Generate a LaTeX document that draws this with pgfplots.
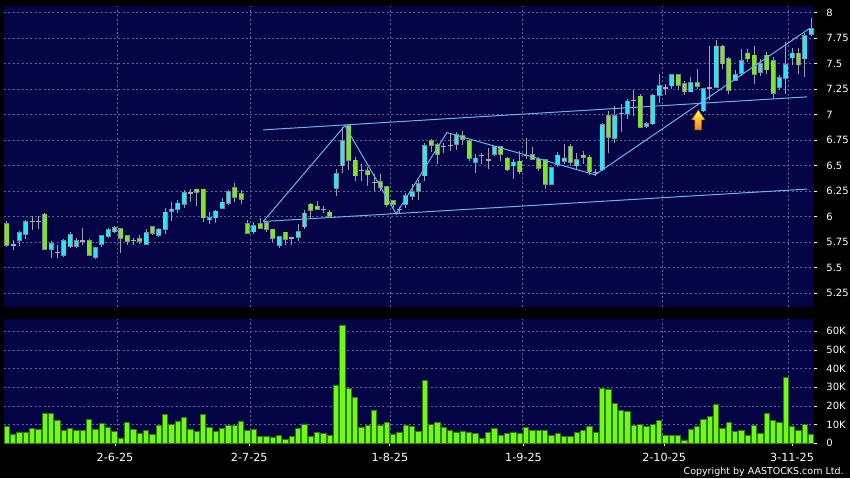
\documentclass[border=0pt]{standalone}
\usepackage{fontspec}
\setmainfont{DejaVu Sans}
\usepackage{pgfplots}
\usepackage{pgfplotstable}
\pgfplotsset{compat=1.18}
\definecolor{navy}{RGB}{3,3,70}
\definecolor{gridc}{RGB}{95,100,150}
\definecolor{upc}{RGB}{45,228,245}
\definecolor{dnc}{RGB}{125,228,40}
\definecolor{rim}{RGB}{125,135,145}
\definecolor{wickc}{RGB}{160,160,170}
\definecolor{dojic}{RGB}{165,170,180}
\definecolor{volc}{RGB}{110,250,20}
\definecolor{voledge}{RGB}{50,120,10}
\definecolor{trend}{RGB}{105,180,235}

\pgfplotstableread{
i o h l c
2 5.77 5.86 5.71 5.84
3 5.83 5.97 5.78 5.95
7 5.68 5.76 5.59 5.73
9 5.62 5.78 5.60 5.76
10 5.71 5.85 5.69 5.82
11 5.71 5.79 5.69 5.76
14 5.60 5.70 5.58 5.69
15 5.73 5.82 5.70 5.81
16 5.81 5.89 5.79 5.87
17 5.85 5.91 5.84 5.89
22 5.73 5.88 5.72 5.84
24 5.82 5.89 5.80 5.875
25 5.875 6.08 5.83 6.04
26 6.05 6.14 5.96 6.07
27 6.07 6.16 6.03 6.13
28 6.12 6.26 6.08 6.23
32 5.97 6.04 5.93 5.99
33 5.99 6.06 5.94 6.05
34 6.085 6.18 6.07 6.14
35 6.13 6.26 6.11 6.24
39 5.85 5.95 5.83 5.91
43 5.72 5.81 5.69 5.80
46 5.80 5.93 5.76 5.85
47 5.90 6.06 5.88 6.03
52 6.28 6.47 6.20 6.42
53 6.50 6.88 6.43 6.745
63 6.12 6.23 6.08 6.20
64 6.20 6.32 6.16 6.24
65 6.25 6.36 6.16 6.32
66 6.40 6.72 6.35 6.69
71 6.71 6.83 6.65 6.80
74 6.53 6.61 6.43 6.57
77 6.615 6.69 6.59 6.68
80 6.50 6.56 6.37 6.53
86 6.32 6.48 6.31 6.475
87 6.515 6.63 6.49 6.60
88 6.54 6.71 6.52 6.57
90 6.50 6.62 6.46 6.555
94 6.46 6.92 6.45 6.90
96 6.77 7.08 6.72 6.99
98 7.01 7.15 6.96 7.13
101 6.89 6.93 6.87 6.91
102 6.91 7.20 6.90 7.19
103 7.19 7.40 7.11 7.285
105 7.285 7.40 7.25 7.39
108 7.225 7.37 7.22 7.31
110 7.04 7.26 7.03 7.25
112 7.27 7.73 7.26 7.67
115 7.34 7.44 7.33 7.39
116 7.41 7.64 7.38 7.53
119 7.415 7.55 7.38 7.50
122 7.27 7.39 7.25 7.36
123 7.36 7.71 7.20 7.49
124 7.56 7.65 7.49 7.60
126 7.55 7.80 7.37 7.77
127 7.79 7.945 7.77 7.84
}\upcandles

\pgfplotstableread{
i o h l c
0 5.925 5.96 5.70 5.72
6 6.02 6.03 5.67 5.68
13 5.76 5.78 5.61 5.62
18 5.88 5.89 5.64 5.79
19 5.81 5.82 5.72 5.76
21 5.78 5.82 5.73 5.755
23 5.90 5.91 5.82 5.84
30 6.265 6.27 6.10 6.24
31 6.265 6.27 5.95 5.99
36 6.28 6.33 6.14 6.19
37 6.22 6.26 6.12 6.17
38 5.93 5.97 5.83 5.84
40 5.925 5.99 5.88 5.885
41 5.94 5.96 5.85 5.875
42 5.875 5.88 5.75 5.79
44 5.845 5.85 5.72 5.78
48 6.12 6.13 5.99 6.06
49 6.10 6.15 6.06 6.07
51 6.04 6.06 5.99 6.00
54 6.89 6.90 6.46 6.555
55 6.55 6.58 6.35 6.40
57 6.45 6.49 6.30 6.41
59 6.34 6.42 6.25 6.285
60 6.29 6.30 6.09 6.115
61 6.15 6.16 6.08 6.12
67 6.745 6.76 6.63 6.70
68 6.70 6.72 6.52 6.61
72 6.79 6.84 6.70 6.76
73 6.745 6.75 6.54 6.57
78 6.68 6.69 6.54 6.61
79 6.57 6.58 6.45 6.46
81 6.54 6.64 6.42 6.44
83 6.605 6.68 6.55 6.56
84 6.56 6.58 6.45 6.475
85 6.555 6.56 6.27 6.32
89 6.68 6.71 6.50 6.53
91 6.60 6.64 6.52 6.58
92 6.58 6.60 6.41 6.44
95 6.99 7.04 6.62 6.78
100 7.18 7.20 6.87 6.88
106 7.39 7.40 7.25 7.29
107 7.30 7.33 7.19 7.225
109 7.31 7.45 7.25 7.28
113 7.67 7.68 7.45 7.50
114 7.55 7.57 7.20 7.24
117 7.60 7.64 7.52 7.55
118 7.58 7.67 7.30 7.40
120 7.58 7.61 7.40 7.44
121 7.53 7.57 7.15 7.21
125 7.60 7.65 7.40 7.49
}\dncandles

\pgfplotstableread{
i o h l c
1 5.72 5.77 5.67 5.72
4 5.95 6.00 5.87 5.95
5 5.95 6.00 5.88 5.95
8 5.65 5.72 5.59 5.65
12 5.76 5.89 5.72 5.76
20 5.765 5.79 5.72 5.765
29 6.23 6.27 6.14 6.23
45 5.79 5.80 5.72 5.79
50 6.07 6.10 6.03 6.07
56 6.45 6.52 6.35 6.45
58 6.33 6.42 6.25 6.33
62 6.07 6.09 6.03 6.07
69 6.69 6.72 6.62 6.69
70 6.70 6.82 6.64 6.70
75 6.595 6.62 6.52 6.595
76 6.555 6.67 6.47 6.555
82 6.595 6.77 6.56 6.595
93 6.43 6.47 6.40 6.43
97 7.01 7.10 6.83 7.01
99 7.14 7.24 6.99 7.14
104 7.26 7.30 7.19 7.26
111 7.26 7.67 7.14 7.26
}\dojicandles

\pgfplotstableread{
i v
0 9.3
1 5.0
2 6.1
3 5.7
4 8.0
5 7.5
6 16.3
7 15.9
8 12.5
9 7.1
10 8.0
11 6.8
12 6.8
13 12.9
14 7.7
15 10.7
16 8.8
17 6.4
18 2.9
19 11.3
20 7.3
21 5.5
22 6.8
23 4.6
24 9.5
25 15.5
26 10.0
27 12.0
28 13.8
29 7.7
30 6.4
31 15.4
32 8.6
33 6.3
34 8.0
35 9.6
36 9.6
37 12.0
38 7.0
39 7.5
40 3.9
41 3.6
42 3.4
43 4.1
44 2.0
45 3.8
46 8.0
47 10.4
48 3.8
49 5.7
50 5.4
51 4.1
52 31.3
53 63.4
54 29.6
55 24.6
56 8.8
57 9.8
58 17.9
59 9.6
60 11.4
61 5.0
62 6.1
63 9.5
64 9.1
65 6.6
66 33.6
67 10.2
68 11.4
69 8.4
70 7.1
71 6.1
72 6.6
73 5.7
74 5.4
75 2.7
76 5.9
77 8.0
78 4.5
79 5.4
80 6.1
81 5.2
82 8.6
83 6.8
84 6.8
85 6.8
86 4.1
87 5.2
88 3.6
89 3.6
90 5.7
91 7.1
92 9.3
93 5.9
94 29.3
95 29.1
96 21.3
97 17.5
98 17.3
99 9.6
100 10.0
101 8.9
102 10.0
103 12.1
104 4.3
105 4.3
106 4.3
107 1.8
108 7.7
109 8.9
110 12.9
111 14.3
112 20.7
113 7.9
114 11.3
115 6.3
116 7.1
117 4.5
118 9.5
119 5.2
120 15.9
121 12.3
122 11.4
123 35.4
124 9.3
125 7.1
126 10.0
127 5.0
}\volume

\pgfplotsset{
  chart/.style={
    scale only axis, width=405pt, anchor=south west,
    xmin=-0.43, xmax=127.47,
    axis background/.style={fill=navy},
    axis line style={draw=none},
    grid style={gridc, dash pattern=on 1pt off 1.2pt, line width=0.4pt},
    tick align=outside, major tick length=1.5pt,
    tick style={white, line width=0.4pt},
    ytick pos=right, yticklabel pos=right,
    ticklabel style={font=\fontsize{5}{6}\selectfont, text=white, inner sep=0pt},
    yticklabel style={anchor=west},
    yticklabel shift=4.5pt,
    /pgf/number format/assume math mode=true,
  },
  ebar/.style 2 args={forget plot, draw=none, mark=none,
    error bars/.cd, y dir=plus, y explicit, error mark=none,
    error bar style={draw=#1, line width=#2, solid}},
}

\begin{document}
\begin{tikzpicture}
\fill[black] (0pt,0pt) rectangle (425pt,239pt);
\useasboundingbox (0pt,0pt) rectangle (425pt,239pt);

\begin{axis}[chart,
  at={(2pt,85.65pt)}, height=150.35pt,
  ymin=5.1147, ymax=8.0657,
  xtick={17.46,38.46,60.6,81.5,103.6,123.4}, xticklabels={},
  xtick style={draw=none},
  xmajorgrids, ymajorgrids,
  ytick={5.25,5.5,5.75,6,6.25,6.5,6.75,7,7.25,7.5,7.75,8},
  yticklabels={5.25,5.5,5.75,6,6.25,6.5,6.75,7,7.25,7.5,7.75,8},
]
% wicks
\addplot[ebar={wickc}{0.5pt}] table[x=i, y=l, y error plus expr=\thisrow{h}-\thisrow{l}] {\upcandles};
\addplot[ebar={wickc}{0.5pt}] table[x=i, y=l, y error plus expr=\thisrow{h}-\thisrow{l}] {\dncandles};
\addplot[ebar={wickc}{0.5pt}] table[x=i, y=l, y error plus expr=\thisrow{h}-\thisrow{l}] {\dojicandles};
% body rims
\addplot[ebar={rim}{2.5pt}] table[x=i, y expr=\thisrow{o}-0.007, y error plus expr=\thisrow{c}-\thisrow{o}+0.014] {\upcandles};
\addplot[ebar={rim}{2.5pt}] table[x=i, y expr=\thisrow{c}-0.007, y error plus expr=\thisrow{o}-\thisrow{c}+0.014] {\dncandles};
% body fills
\addplot[ebar={upc}{1.8pt}] table[x=i, y=o, y error plus expr=\thisrow{c}-\thisrow{o}] {\upcandles};
\addplot[ebar={dnc}{1.8pt}] table[x=i, y=c, y error plus expr=\thisrow{o}-\thisrow{c}] {\dncandles};
\addplot[ebar={dojic}{2.5pt}] table[x=i, y expr=\thisrow{o}-0.006, y error plus expr=0.012] {\dojicandles};
% channel and zigzag lines
\addplot[trend, line width=0.5pt] coordinates {(40.5,6.850) (126.4,7.174)};
\addplot[trend, line width=0.5pt] coordinates {(40.5,5.951) (126.4,6.269)};
\addplot[trend, line width=0.5pt] coordinates {(40.5,5.951) (53.4,6.892) (61.5,6.026) (69.5,6.824) (92.9,6.409) (126.8,7.847)};
% arrow
\path[draw=orange!70!black, line width=0.3pt, top color=yellow!60!white, bottom color=orange]
  (axis cs:109.2,7.046) -- (axis cs:110.25,6.948) -- (axis cs:109.73,6.948) -- (axis cs:109.73,6.85)
  -- (axis cs:108.67,6.85) -- (axis cs:108.67,6.948) -- (axis cs:108.15,6.948) -- cycle;
\end{axis}

\begin{axis}[chart,
  at={(2pt,17.35pt)}, height=62.3pt,
  ymin=0, ymax=66.75,
  xtick={17.1,38.3,60.5,81.6,103.8,124.0},
  xticklabels={2-6-25,2-7-25,1-8-25,1-9-25,2-10-25,3-11-25},
  xtick pos=bottom,
  xticklabel style={anchor=north, font=\fontsize{5.6}{6}\selectfont}, xticklabel shift=3.0pt,
  extra x ticks={17.46,38.46,60.6,81.5,103.6,123.4},
  extra x tick labels={},
  extra tick style={grid=major, major tick length=0pt},
  ymajorgrids,
  ytick={0,10,20,30,40,50,60},
  yticklabels={0,10K,20K,30K,40K,50K,60K},
]
\addplot[ybar, bar width=2.7pt, fill=volc, draw=voledge, line width=0.3pt] table[x=i, y=v] {\volume};
\end{axis}

\node[anchor=east, text=white, font=\fontsize{4.75}{5}\selectfont, inner sep=0pt] at (422pt,3.2pt) {Copyright by AASTOCKS.com Ltd.};
\end{tikzpicture}
\end{document}
